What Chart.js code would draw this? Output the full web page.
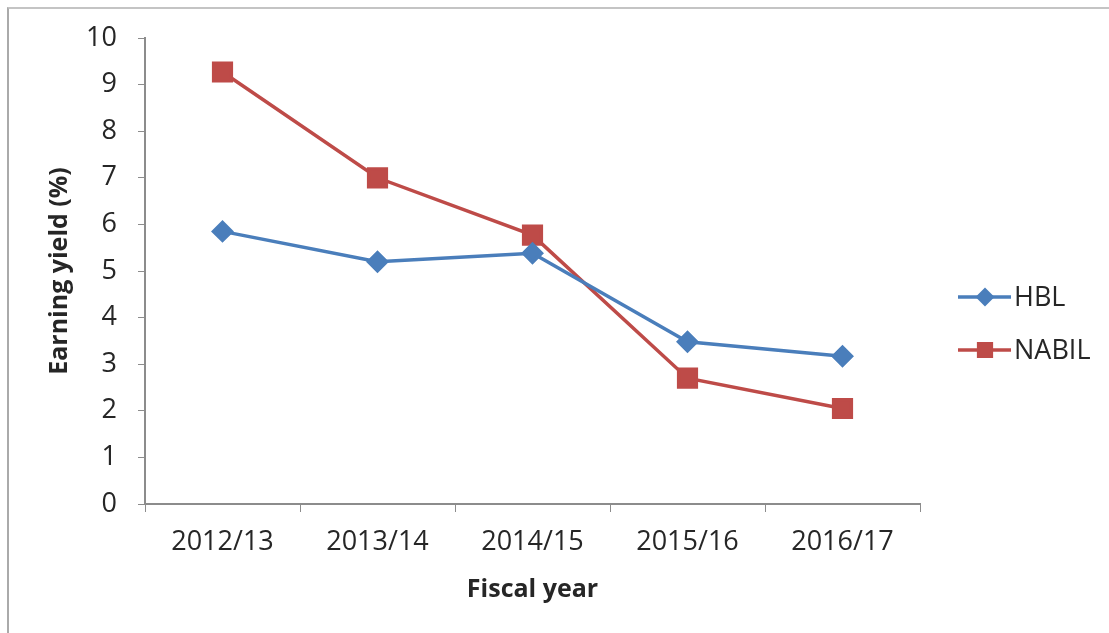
<!DOCTYPE html>
<html lang="en">
<head>
    <meta charset="UTF-8">
    <title>Earning yield</title>
    <script src="https://cdn.jsdelivr.net/npm/chart.js"></script>
    <style>
        html, body { margin: 0; padding: 0; background: #fff; }
        #wrap { position: relative; width: 1109px; height: 633px; }
        #frame { position: absolute; left: 7px; top: 7px; right: 0; bottom: 0;
                 border-left: 2px solid #aaa; border-top: 2px solid #c4c4c4; }
        canvas { position: absolute; left: 0; top: 0; }
    </style>
</head>
<body>
<div id="wrap">
    <div id="frame"></div>
    <canvas id="chart" width="1109" height="633"></canvas>
</div>
<script>
    // data
    const years = ['2012/13', '2013/14', '2014/15', '2015/16', '2016/17'];
    const hbl = [5.85, 5.2, 5.38, 3.48, 3.17];
    const nabil = [9.27, 7.0, 5.77, 2.7, 2.05];
    const yTicks = [0, 1, 2, 3, 4, 5, 6, 7, 8, 9, 10];

    const blue = '#4a7ebb';
    const red = '#be4b48';
    const axisGray = '#8c8c8c';
    const textColor = '#262626';
    const fontFamily = "'Open Sans', 'Liberation Sans', sans-serif";

    // legend drawn on the canvas, to the right of the plot
    const sideLegend = {
        id: 'sideLegend',
        afterDraw(chart) {
            const ctx = chart.ctx;
            const items = chart.data.datasets;
            ctx.save();
            items.forEach((ds, i) => {
                const y = 297 + i * 53;
                ctx.strokeStyle = ds.borderColor;
                ctx.lineWidth = ds.borderWidth;
                ctx.beginPath();
                ctx.moveTo(958, y);
                ctx.lineTo(1011, y);
                ctx.stroke();
                Chart.helpers.drawPoint(ctx, {
                    pointStyle: ds.pointStyle,
                    radius: ds.pointStyle === 'rect' ? 9 : 7,
                    borderWidth: 1
                }, 985, y);
                ctx.fillStyle = ds.backgroundColor;
                ctx.strokeStyle = ds.borderColor;
                ctx.fill();
                ctx.fillStyle = textColor;
                ctx.font = '27px ' + fontFamily;
                ctx.textBaseline = 'middle';
                ctx.textAlign = 'left';
                ctx.fillText(ds.label, 1014, y + 1);
            });
            ctx.restore();
        }
    };

    new Chart(document.getElementById('chart'), {
        type: 'line',
        data: {
            labels: years,
            datasets: [
                {
                    label: 'HBL',
                    data: hbl,
                    borderColor: blue,
                    backgroundColor: blue,
                    borderWidth: 3.5,
                    pointStyle: 'rectRot',
                    pointRadius: 9,
                    pointHoverRadius: 9,
                    tension: 0
                },
                {
                    label: 'NABIL',
                    data: nabil,
                    borderColor: red,
                    backgroundColor: red,
                    borderWidth: 3.5,
                    pointStyle: 'rect',
                    pointRadius: 12.5,
                    pointHoverRadius: 12.5,
                    tension: 0
                }
            ]
        },
        options: {
            responsive: false,
            animation: false,
            events: [],
            layout: { padding: { left: 0, right: 189, top: 38, bottom: 0 } },
            plugins: {
                legend: { display: false },
                tooltip: { enabled: false }
            },
            scales: {
                x: {
                    offset: true,
                    grid: {
                        offset: true,
                        drawOnChartArea: false,
                        drawTicks: true,
                        tickLength: 8,
                        color: axisGray
                    },
                    border: { color: axisGray, width: 2 },
                    ticks: {
                        color: textColor,
                        padding: 14,
                        maxRotation: 0,
                        font: { family: fontFamily, size: 27 }
                    },
                    title: {
                        display: true,
                        text: 'Fiscal year',
                        color: textColor,
                        font: { family: fontFamily, size: 25, weight: 'bold' },
                        padding: { top: 0, bottom: 28 }
                    },
                    afterFit(scale) { scale.height = 129; }
                },
                y: {
                    min: 0,
                    max: 10,
                    afterBuildTicks(scale) { scale.ticks = yTicks.map(v => ({ value: v })); },
                    grid: {
                        drawOnChartArea: false,
                        tickLength: 7,
                        color: axisGray
                    },
                    border: { color: axisGray, width: 2 },
                    ticks: {
                        color: textColor,
                        padding: 21,
                        font: { family: fontFamily, size: 27 }
                    },
                    title: {
                        display: true,
                        text: 'Earning yield (%)',
                        color: textColor,
                        font: { family: fontFamily, size: 25, weight: 'bold' },
                        padding: { top: 45, bottom: 0 }
                    },
                    afterFit(scale) { scale.width = 145; }
                }
            }
        },
        plugins: [sideLegend]
    });
</script>
</body>
</html>
